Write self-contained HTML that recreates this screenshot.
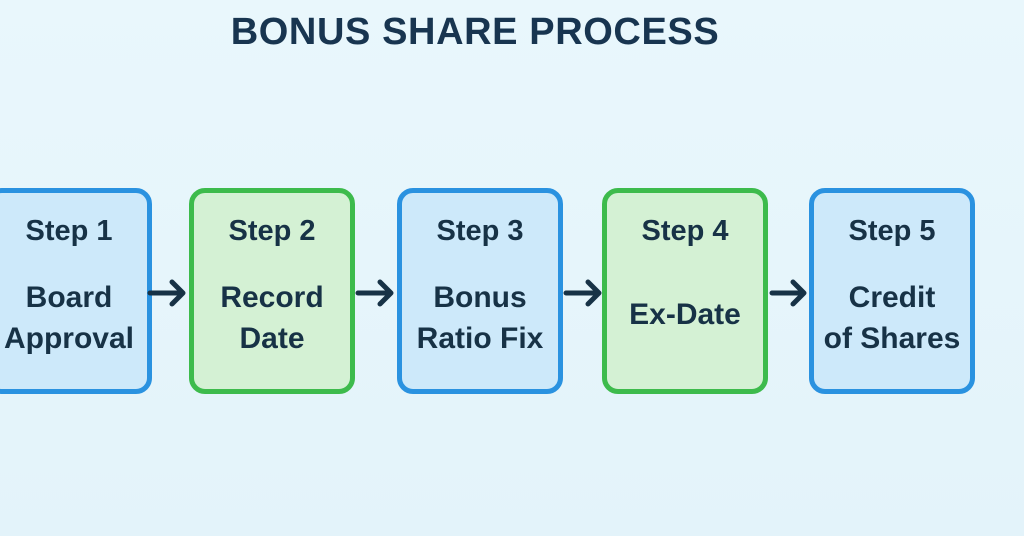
<!DOCTYPE html>
<html><head><style>
body{margin:0;width:1024px;height:536px;overflow:hidden;background:linear-gradient(#e9f7fc,#e3f3fa);font-family:"Liberation Sans","DejaVu Sans",sans-serif;position:relative}
.t{position:absolute;top:11px;left:0;width:950px;text-align:center;font-size:38px;font-weight:bold;color:#183550;letter-spacing:0.6px}
.b{position:absolute;top:188px;width:156px;height:196px;border:5px solid #2a92e0;background:#cde9fa;border-radius:16px;color:#173246;font-weight:bold;text-align:center}
.g{border-color:#3dbb4c;background:#d4f1d4}
.s{position:absolute;top:22px;left:0;right:0;font-size:29px}
.m{position:absolute;top:84px;left:-10px;right:-10px;font-size:30px;line-height:41px}
svg{position:absolute;left:0;top:0}
</style></head><body>
<div class="t">BONUS SHARE PROCESS</div>
<div class="b" style="left:-14px"><div class="s">Step 1</div><div class="m">Board<br>Approval</div></div>
<div class="b g" style="left:189px"><div class="s">Step 2</div><div class="m">Record<br>Date</div></div>
<div class="b" style="left:397px"><div class="s">Step 3</div><div class="m">Bonus<br>Ratio Fix</div></div>
<div class="b g" style="left:602px"><div class="s">Step 4</div><div class="m" style="top:101px">Ex-Date</div></div>
<div class="b" style="left:809px"><div class="s">Step 5</div><div class="m">Credit<br>of Shares</div></div>
<svg width="1024" height="536" fill="none" stroke="#173246" stroke-width="5" stroke-linecap="round" stroke-linejoin="round">
<path d="M150 293H182M172 282L183 293L172 304"/>
<path d="M358 293H390M380 282L391 293L380 304"/>
<path d="M566 293H598M588 282L599 293L588 304"/>
<path d="M772 293H803M793 282L804 293L793 304"/>
</svg>
</body></html>
